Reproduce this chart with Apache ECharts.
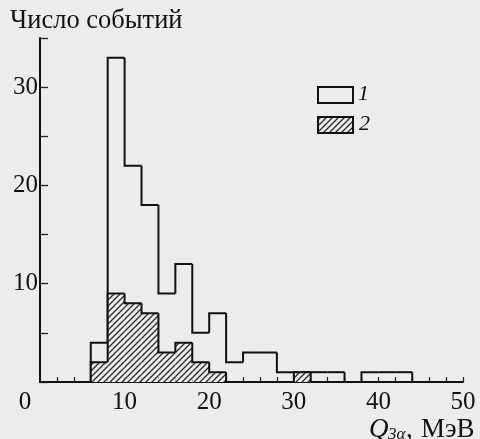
<!DOCTYPE html>
<html>
<head>
<meta charset="utf-8">
<script src="https://cdn.jsdelivr.net/npm/echarts@6/dist/echarts.min.js"></script>
<style>
html, body { margin: 0; padding: 0; background: #ececec; }
#chart { width: 480px; height: 439px; }
</style>
</head>
<body>
<div id="chart"></div>
<script>
// левые границы бинов, МэВ (ширина 2 МэВ)
const binLeft = [0, 2, 4, 6, 8, 10, 12, 14, 16, 18, 20, 22, 24, 26, 28, 30, 32, 34, 36, 38, 40, 42, 44, 46, 48];
const binWidth = 2;
// 1 - все события
const total = [0, 0, 0, 4, 33, 22, 18, 9, 12, 5, 7, 2, 3, 3, 1, 1, 1, 1, 0, 1, 1, 1, 0, 0, 0];
// 2 - заштрихованная гистограмма
const hatched = [0, 0, 0, 2, 9, 8, 7, 3, 4, 2, 1, 0, 0, 0, 0, 1, 0, 0, 0, 0, 0, 0, 0, 0, 0];
const yLabels = [10, 20, 30];

const FONT = '"Liberation Serif", "DejaVu Serif", serif';
const BG = '#ececec';

// штриховка ////
const hatch = document.createElement('canvas');
hatch.width = 6;
hatch.height = 6;
const g = hatch.getContext('2d');
g.fillStyle = BG;
g.fillRect(0, 0, 6, 6);
g.strokeStyle = '#2a2a2a';
g.lineWidth = 1.3;
g.beginPath();
g.moveTo(-1, 7); g.lineTo(7, -1);
g.moveTo(-1, 1); g.lineTo(1, -1);
g.moveTo(5, 7); g.lineTo(7, 5);
g.stroke();
const hatchFill = {image: hatch, repeat: 'repeat'};

function toData(values) {
    return values.map((v, i) => [binLeft[i], v, i > 0 ? values[i - 1] : 0]);
}

function stepRender(fill) {
    return function (params, api) {
        const x0 = api.value(0), v = api.value(1), prev = api.value(2);
        if (v === 0 && prev === 0) return null;
        const children = [];
        if (fill && v > 0) {
            const a = api.coord([x0, v]);
            const b = api.coord([x0 + binWidth, 0]);
            children.push({
                type: 'rect',
                shape: {x: a[0], y: a[1], width: b[0] - a[0], height: b[1] - a[1]},
                style: {fill: fill, stroke: null}
            });
        }
        children.push({
            type: 'polyline',
            shape: {points: [api.coord([x0, prev]), api.coord([x0, v]), api.coord([x0 + binWidth, v])]},
            style: {stroke: '#111', lineWidth: 2, fill: null}
        });
        return {type: 'group', children: children};
    };
}

const chart = echarts.init(document.getElementById('chart'));
const option = {
    backgroundColor: BG,
    animation: false,
    grid: {left: 40, right: 17, top: 38, bottom: 57, containLabel: false},
    xAxis: {
        type: 'value',
        min: 0, max: 50, interval: 10,
        axisLine: {lineStyle: {color: '#111', width: 2}},
        axisTick: {show: true, inside: true, length: 5, lineStyle: {color: '#222', width: 1.2}},
        minorTick: {show: true, splitNumber: 5, length: 5, lineStyle: {color: '#222', width: 1.2}},
        splitLine: {show: false},
        axisLabel: {
            color: '#111', fontFamily: FONT, fontSize: 25, margin: 8,
            formatter: v => v === 0 ? '{z|0}' : String(v),
            rich: {z: {fontFamily: FONT, fontSize: 25, color: '#111', padding: [0, 30, 0, 0]}}
        }
    },
    yAxis: {
        type: 'value',
        min: 0, max: 35, interval: 5,
        axisLine: {show: true, lineStyle: {color: '#111', width: 2}},
        axisTick: {show: true, inside: true, length: 8, lineStyle: {color: '#222', width: 1.3}},
        splitLine: {show: false},
        axisLabel: {
            color: '#111', fontFamily: FONT, fontSize: 25, margin: 2,
            formatter: v => yLabels.includes(v) ? String(v) : ''
        }
    },
    series: [
        {
            name: '1', type: 'custom', z: 3,
            renderItem: stepRender(null),
            encode: {x: 0, y: 1},
            data: toData(total)
        },
        {
            name: '2', type: 'custom', z: 4,
            renderItem: stepRender(hatchFill),
            encode: {x: 0, y: 1},
            data: toData(hatched)
        }
    ],
    graphic: [
        {type: 'text', left: 10, top: 8, style: {text: 'Число событий', font: '26.5px ' + FONT, fill: '#111'}},
        // легенда
        {type: 'rect', shape: {x: 318, y: 87, width: 35, height: 16}, style: {fill: BG, stroke: '#111', lineWidth: 2}},
        {type: 'text', x: 358, y: 83, style: {text: '1', font: 'italic 22px ' + FONT, fill: '#111'}},
        {type: 'rect', shape: {x: 318, y: 117, width: 35, height: 16}, style: {fill: hatchFill, stroke: '#111', lineWidth: 2}},
        {type: 'text', x: 359, y: 113, style: {text: '2', font: 'italic 22px ' + FONT, fill: '#111'}},
        // подпись оси
        {type: 'text', x: 369, y: 416, style: {text: 'Q', font: 'italic 27px ' + FONT, fill: '#111'}},
        {type: 'text', x: 388, y: 426, style: {text: '3α', font: 'italic 17px ' + FONT, fill: '#111'}},
        {type: 'text', x: 406, y: 416, style: {text: ',', font: '27px ' + FONT, fill: '#111'}},
        {type: 'text', x: 421, y: 416, style: {text: 'МэВ', font: '27px ' + FONT, fill: '#111'}}
    ]
};
chart.setOption(option);
</script>
</body>
</html>
